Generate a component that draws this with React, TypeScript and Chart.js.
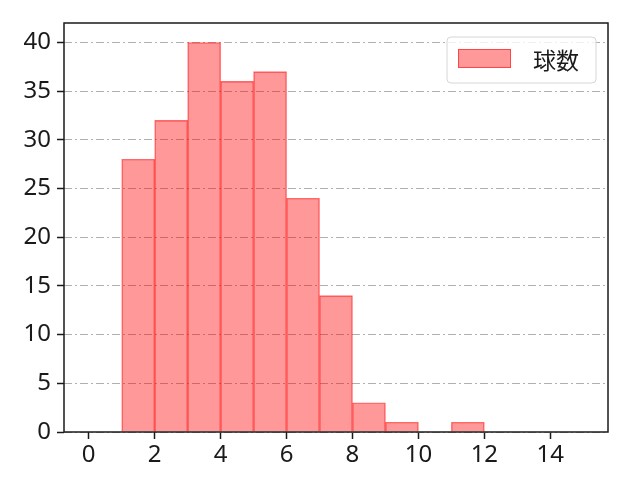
import { useEffect, useRef } from "react";
import { Chart, registerables } from "chart.js";

Chart.register(...registerables);

// histogram bins (edges) and counts per bin
const binEdges = [0, 1, 2, 3, 4, 5, 6, 7, 8, 9, 10, 11, 12, 13, 14, 15];
const counts = [0, 28, 32, 40, 36, 37, 24, 14, 3, 1, 0, 1, 0, 0, 0];
const xTicks = [0, 2, 4, 6, 8, 10, 12, 14];
const yTicks = [0, 5, 10, 15, 20, 25, 30, 35, 40];
const seriesLabel = "球数";

const FONT = "'Noto Sans', sans-serif";
const CJK_FONT = "'Noto Sans CJK JP', 'Noto Sans', sans-serif";
const BAR_FILL = "rgba(255, 0, 0, 0.4)";
const BAR_EDGE = "rgba(255, 0, 0, 0.55)";

const framePlugin = {
  id: "frame",
  afterDraw(chart: Chart) {
    const { ctx, chartArea } = chart;
    const { left, top, right, bottom } = chartArea;
    ctx.save();
    ctx.strokeStyle = "#1a1a1a";
    ctx.lineWidth = 1.5;
    ctx.strokeRect(left, top, right - left, bottom - top);

    // legend box, upper right inside the axes
    const w = 149, h = 46;
    const x = right - 12 - w, y = top + 14;
    ctx.beginPath();
    ctx.roundRect(x, y, w, h, 4);
    ctx.fillStyle = "rgba(255,255,255,0.8)";
    ctx.fill();
    ctx.strokeStyle = "#d6d6d6";
    ctx.lineWidth = 1;
    ctx.stroke();
    ctx.fillStyle = BAR_FILL;
    ctx.fillRect(x + 11, y + 12, 53, 19);
    ctx.strokeStyle = BAR_EDGE;
    ctx.strokeRect(x + 11.5, y + 12.5, 52, 18);
    ctx.fillStyle = "#1a1a1a";
    ctx.font = "23px " + CJK_FONT;
    ctx.textBaseline = "middle";
    ctx.fillText(seriesLabel, x + 86, y + 23);
    ctx.restore();
  },
};

export default function App() {
  const chartRef = useRef<HTMLCanvasElement>(null);
  const chartInstance = useRef<Chart | null>(null);

  useEffect(() => {
    document.body.style.margin = "0";
    if (!chartRef.current) return;
    if (chartInstance.current) {
      chartInstance.current.destroy();
    }
    const ctx = chartRef.current.getContext("2d");
    if (!ctx) return;

    const points = counts.map((c, i) => ({
      x: (binEdges[i] + binEdges[i + 1]) / 2,
      y: c,
    }));

    chartInstance.current = new Chart(ctx, {
      type: "bar",
      data: {
        datasets: [{
          label: seriesLabel,
          data: points,
          backgroundColor: BAR_FILL,
          borderColor: BAR_EDGE,
          borderWidth: 0.7,
          borderSkipped: "start",
          barPercentage: 1,
          categoryPercentage: 1,
        }],
      },
      options: {
        responsive: false,
        animation: false,
        layout: { padding: { left: 0, top: 23, right: 32, bottom: 0 } },
        plugins: {
          legend: { display: false },
          tooltip: { enabled: false },
        },
        scales: {
          x: {
            type: "linear",
            offset: false,
            min: -0.75,
            max: 15.75,
            afterBuildTicks: (scale: any) => {
              scale.ticks = xTicks.map(v => ({ value: v }));
            },
            afterFit: (scale: any) => {
              scale.height = 48;
            },
            grid: {
              offset: false,
              drawOnChartArea: false,
              drawTicks: true,
              tickLength: 7,
              tickColor: "#1a1a1a",
              tickWidth: 1.5,
            },
            border: { display: false },
            ticks: {
              color: "#1a1a1a",
              font: { family: FONT, size: 24 },
              padding: 2,
              maxRotation: 0,
              autoSkip: false,
            },
          },
          y: {
            min: 0,
            max: 42,
            afterBuildTicks: (scale: any) => {
              scale.ticks = yTicks.map(v => ({ value: v }));
            },
            afterFit: (scale: any) => {
              scale.width = 64;
            },
            grid: {
              color: "#b0b0b0",
              lineWidth: 1,
              drawTicks: true,
              tickLength: 7,
              tickColor: "#1a1a1a",
              tickWidth: 1.5,
            },
            border: { display: false, dash: [8, 3, 2, 3] },
            ticks: {
              color: "#1a1a1a",
              font: { family: FONT, size: 24 },
              padding: 6,
              autoSkip: false,
            },
          },
        },
      },
      plugins: [framePlugin],
    });

    return () => {
      if (chartInstance.current) {
        chartInstance.current.destroy();
        chartInstance.current = null;
      }
    };
  }, []);

  return (
    <div style={{ width: 640, height: 480, background: "#fff" }}>
      <canvas ref={chartRef} width={640} height={480}></canvas>
    </div>
  );
}
